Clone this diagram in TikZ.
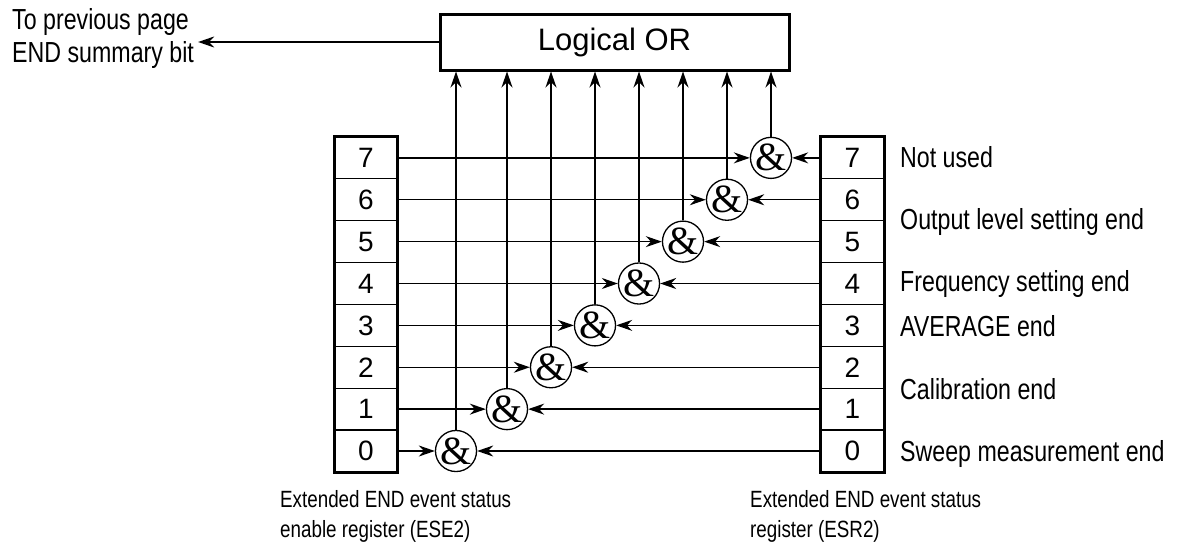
\documentclass[tikz,border=0pt]{standalone}
\usepackage{fontspec}
\setmainfont[FakeStretch=0.8]{Liberation Sans}
\newfontfamily\orfont{Liberation Sans}
\newfontfamily\gatefont{Liberation Serif}
\usetikzlibrary{arrows.meta}

\begin{document}
\begin{tikzpicture}[x=1pt,y=-1pt,
		cell/.style={draw,line width=1.3pt,minimum width=62pt,minimum height=41.9pt,inner sep=0pt,
			font=\orfont\fontsize{28}{28}\selectfont},
		gate/.style={draw,circle,line width=1.3pt,minimum size=40pt,inner sep=0pt,
			font=\gatefont\fontsize{40}{40}\selectfont},
		sig/.style={line width=1.3pt,-{Stealth[length=16pt,width=11pt]}},
		lbl/.style={anchor=base west,inner sep=0pt,font=\fontsize{29}{29}\selectfont},
		note/.style={anchor=north west,inner sep=0pt,align=left,font=\fontsize{23.5}{30}\selectfont}]
		\useasboundingbox (0,0) rectangle (1180,541);
		
		% logical OR and its output
		\node[draw,line width=3pt,minimum width=349pt,minimum height=56pt,
		font=\orfont\fontsize{31}{31}\selectfont] (or) at (614.5,42) {Logical OR};
		\node[anchor=north west,inner sep=0pt,align=left,font=\fontsize{29}{33}\selectfont]
		(prev) at (12,8) {To previous page\\END summary bit};
		\draw[sig,line width=2pt] (or.west) -- ([xshift=4pt]prev.east |- or.west);
		
		% registers (ESE2 left, ESR2 right)
		\foreach \i in {0,...,7} {
			\node[cell] (e\i) at (366,{451-41.875*\i}) {\i};
			\node[cell] (s\i) at (852.5,{451-41.875*\i}) {\i};
		}
		\draw[line width=3pt] (e7.north west) rectangle (e0.south east);
		\draw[line width=3pt] (s7.north west) rectangle (s0.south east);
		
		% AND gates
		\foreach \i/\x in {0/456,1/507,2/551,3/595,4/639,5/683,6/727,7/771} {
			\node[gate] (g\i) at (\x,{451-41.875*\i}) {\&};
			\draw[sig] (e\i) -- (g\i);
			\draw[sig] (s\i) -- (g\i);
			\draw[sig] (g\i) -- (g\i |- or.south);
		}
		
		% bit names
		\node[lbl] (b7) at (900,167) {Not used};
		\node[lbl] (b6) at (900,229) {Output level setting end};
		\node[lbl] (b5) at (900,291) {Frequency setting end};
		\node[lbl] (b3) at (900,336) {AVERAGE end};
		\node[lbl] (b2) at (900,399) {Calibration end};
		\node[lbl] (b0) at (900,461) {Sweep measurement end};
		
		% register names
		\node[note] (ese) at (280,490) {Extended END event status\\enable register (ESE2)};
		\node[note] (esr) at (750,490) {Extended END event status\\register (ESR2)};
	\end{tikzpicture}
\end{document}
